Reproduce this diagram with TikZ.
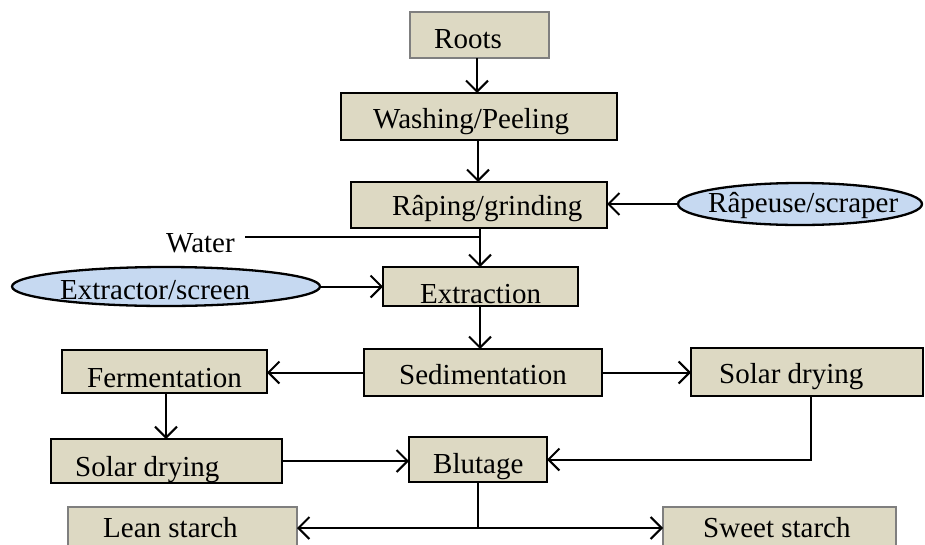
\documentclass[tikz,border=0pt]{standalone}
\usepackage{fontspec}
\setmainfont{Liberation Serif}
\usetikzlibrary{arrows.meta,shapes.geometric}
\definecolor{boxfill}{HTML}{DDD9C3}
\definecolor{ovalfill}{HTML}{C6D9F1}
\definecolor{greyline}{HTML}{7F7F7F}
\tikzset{
  stepbox/.style={draw=black, fill=boxfill, line width=2.3pt, rectangle, inner sep=0pt, outer sep=0pt},
  endbox/.style={stepbox, draw=greyline},
  tool/.style={draw=black, fill=ovalfill, line width=2.3pt, ellipse, inner sep=0pt, outer sep=0pt},
  lbl/.style={anchor=base west, inner sep=0pt, font=\fontsize{29}{34}\selectfont},
  link/.style={line width=2pt},
  arr/.style={link, -{Straight Barb[length=11pt,width=22pt,line width=2pt]}}
}
\begin{document}
\begin{tikzpicture}[x=1pt,y=-1pt]
\useasboundingbox (0,0) rectangle (925,544);
\clip (0,0) rectangle (925,544);

% process boxes
\node[endbox,  minimum width=139, minimum height=46] (roots) at (479.5,35) {};
\node[stepbox, minimum width=276, minimum height=47] (wash)  at (479,116.5) {};
\node[stepbox, minimum width=256, minimum height=46] (rap)   at (479,205) {};
\node[stepbox, minimum width=195, minimum height=39] (ext)   at (480.5,286.5) {};
\node[stepbox, minimum width=238, minimum height=47] (sed)   at (483,372.5) {};
\node[stepbox, minimum width=205, minimum height=43] (ferm)  at (164.5,371.5) {};
\node[stepbox, minimum width=231, minimum height=44] (solA)  at (166.5,461) {};
\node[stepbox, minimum width=138, minimum height=45] (blu)   at (478,459.5) {};
\node[stepbox, minimum width=232, minimum height=48] (solB)  at (807,372) {};
\node[endbox,  minimum width=229, minimum height=53] (lean)  at (182.5,533.5) {};
\node[endbox,  minimum width=233, minimum height=53] (sweet) at (779.5,533.5) {};

% equipment
\node[tool, minimum width=244, minimum height=42] (rasp) at (800,204) {};
\node[tool, minimum width=308, minimum height=39] (extr) at (166,286.5) {};

% water inlet and branch points
\coordinate (wstart) at (245,237);
\coordinate (wjoin) at (480,237);
\coordinate (split) at (478,528);

% connectors
\draw[arr] (roots.south -| 477,0) -- (wash.north -| 477,0);
\draw[arr] (wash.south -| 478,0) -- (rap.north -| 478,0);
\draw[arr] (rap.south -| 480,0) -- (ext.north -| 480,0);
\draw[link] (wstart) -- (wjoin);
\draw[arr] (rasp.west) -- (rap.east |- rasp.west);
\draw[arr] (extr.east) -- (ext.west |- extr.east);
\draw[arr] (ext.south -| 480,0) -- (sed.north -| 480,0);
\draw[arr] (sed.west) -- (ferm.east |- sed.west);
\draw[arr] (sed.east) -- (solB.west |- sed.east);
\draw[arr] (ferm.south -| 166,0) -- (solA.north -| 166,0);
\draw[arr] (solA.east) -- (blu.west |- solA.east);
\draw[arr] (solB.south -| 811,0) |- (blu.east);
\draw[link] (blu.south -| split) -- (split);
\draw[arr] (split) -- (split -| lean.east);
\draw[arr] (split) -- (split -| sweet.west);

% labels
\node[lbl] (troots) at (434,48)  {Roots};
\node[lbl] (twash)  at (373,128) {Washing/Peeling};
\node[lbl] (trap)   at (392,215) {Râping/grinding};
\node[lbl] (trasp)  at (708,212) {Râpeuse/scraper};
\node[lbl] (twater) at (166,252) {Water};
\node[lbl] (textr)  at (60,299)  {Extractor/screen};
\node[lbl] (text)   at (420,303) {Extraction};
\node[lbl] (tsed)   at (399,384) {Sedimentation};
\node[lbl] (tferm)  at (87,387)  {Fermentation};
\node[lbl] (tsolA)  at (75,476)  {Solar drying};
\node[lbl] (tblu)   at (433,473) {Blutage};
\node[lbl] (tsolB)  at (719,383) {Solar drying};
\node[lbl] (tlean)  at (103,537) {Lean starch};
\node[lbl] (tsweet) at (703,537) {Sweet starch};
\end{tikzpicture}
\end{document}
